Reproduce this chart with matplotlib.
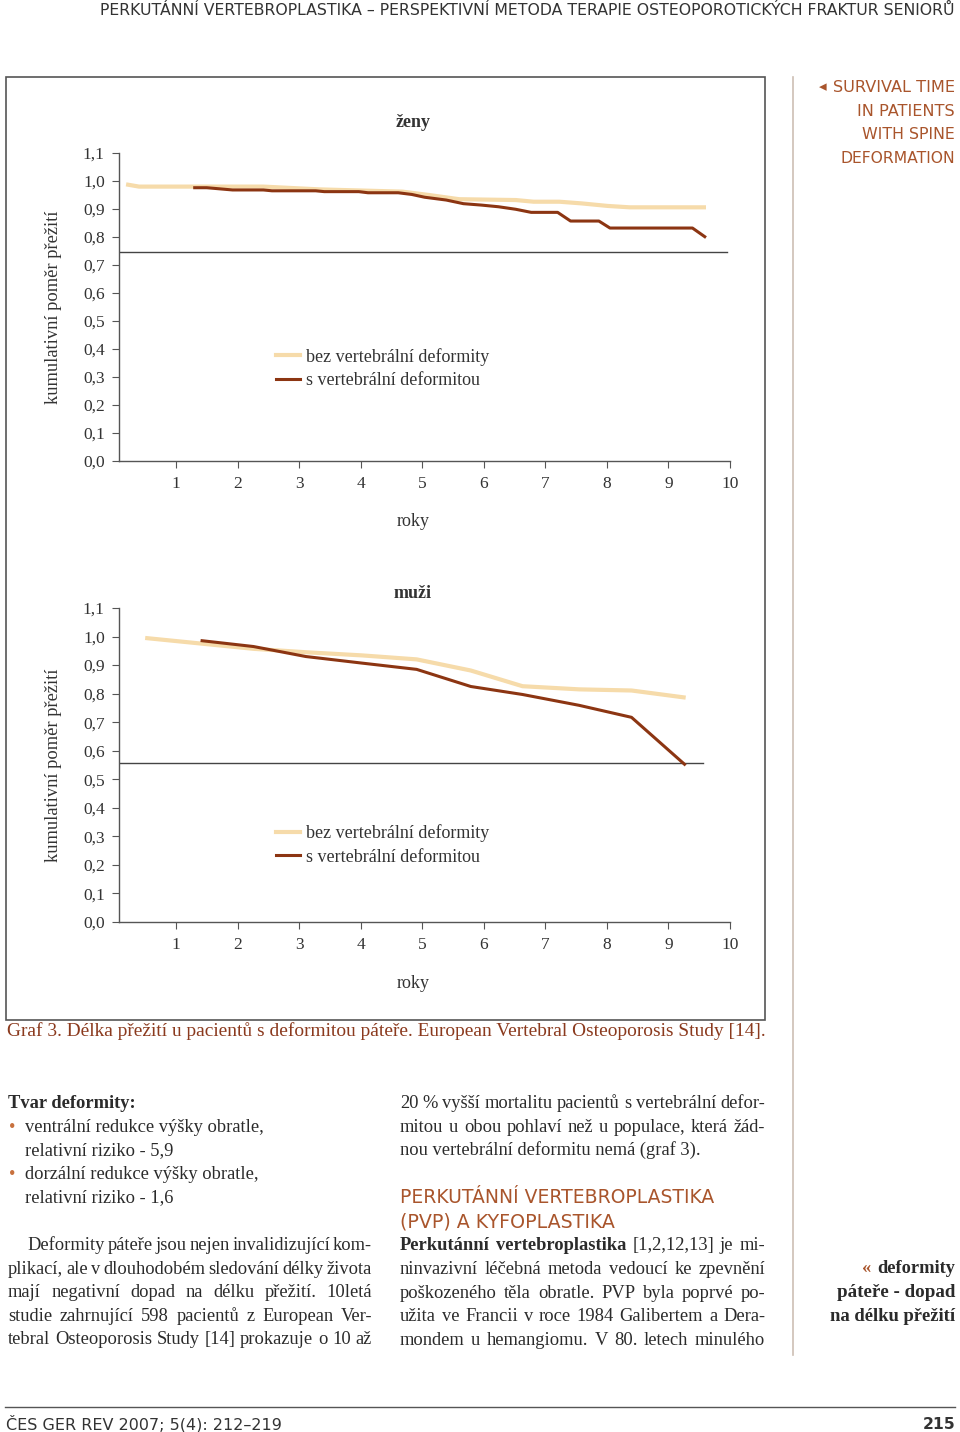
import matplotlib
matplotlib.use("Agg")
import matplotlib.pyplot as plt
from matplotlib.lines import Line2D
from matplotlib.patches import Rectangle

# ---- data ----
years = [1, 2, 3, 4, 5, 6, 7, 8, 9, 10]
ytick_vals = [0.0, 0.1, 0.2, 0.3, 0.4, 0.5, 0.6, 0.7, 0.8, 0.9, 1.0, 1.1]
ytick_labels = ["0,0", "0,1", "0,2", "0,3", "0,4", "0,5", "0,6", "0,7", "0,8", "0,9", "1,0", "1,1"]

# women (ženy)
women_x_bez = [0.19, 0.40, 2.42, 3.34, 4.68, 5.11, 5.60, 6.52, 6.81, 7.23, 7.59, 8.01, 8.37, 9.61]
women_bez = [0.988, 0.980, 0.980, 0.970, 0.962, 0.950, 0.935, 0.932, 0.926, 0.926, 0.920, 0.911, 0.906, 0.906]
women_x_s = [1.28, 1.50, 1.92, 2.42, 2.56, 3.27, 3.41, 3.97, 4.12, 4.61, 4.83, 5.04, 5.39, 5.67,
             5.96, 6.24, 6.52, 6.77, 7.20, 7.41, 7.87, 8.05, 9.39, 9.61]
women_s = [0.976, 0.976, 0.968, 0.968, 0.965, 0.965, 0.962, 0.962, 0.958, 0.958, 0.952, 0.942,
           0.932, 0.919, 0.914, 0.908, 0.899, 0.888, 0.888, 0.857, 0.857, 0.832, 0.832, 0.798]
women_ref = 0.746
women_ref_end = 9.95

# men (muži)
men_x_bez = [0.50, 2.26, 3.11, 4.02, 4.91, 5.79, 6.63, 7.55, 8.40, 9.28]
men_bez = [0.995, 0.957, 0.945, 0.934, 0.920, 0.881, 0.826, 0.815, 0.811, 0.786]
men_x_s = [1.40, 2.26, 3.11, 4.02, 4.91, 5.79, 6.63, 7.55, 8.40, 9.28]
men_s = [0.986, 0.965, 0.930, 0.907, 0.885, 0.825, 0.797, 0.759, 0.717, 0.549]
men_ref = 0.556
men_ref_end = 9.56

legend_labels = ["bez vertebrální deformity", "s vertebrální deformitou"]

LIGHT = "#F6DBAA"
DARK = "#8C3512"
BROWN = "#8B3A1E"
ORANGE = "#A9552C"
GREY = "#555555"
TXT = "#2b2b2b"
SERIF = "Liberation Serif"
SANS = "DejaVu Sans"

W, H = 960, 1432
fig = plt.figure(figsize=(9.6, 14.32), dpi=100)
renderer = fig.canvas.get_renderer()


def fx(x):
    return x / W


def fy(y):
    return 1 - y / H


def fit(s, x, y, width, ha="left", maxsize=None, **kw):
    # text scaled so that it spans the given pixel width
    t = fig.text(fx(x), fy(y), s, ha=ha, va="baseline", fontsize=10, **kw)
    w = t.get_window_extent(renderer).width
    size = 10 * width / w
    if maxsize is not None:
        size = min(size, maxsize)
    t.set_fontsize(size)
    return t


def draw_chart(rect, title, title_y, x_bez, y_bez, x_s, y_s, ref, ref_end, leg_y, xlab_y):
    ax = fig.add_axes(rect)
    ax.plot(x_bez, y_bez, color=LIGHT, lw=3.0, solid_capstyle="butt", zorder=3)
    ax.plot(x_s, y_s, color=DARK, lw=2.2, solid_capstyle="butt", zorder=4)
    ax.plot([0.07, ref_end], [ref, ref], color="#444444", lw=1.0, zorder=2)
    ax.set_xlim(0.07, 10)
    ax.set_ylim(0, 1.1)
    ax.set_xticks(years)
    ax.set_xticklabels([str(y) for y in years])
    ax.set_yticks(ytick_vals)
    ax.set_yticklabels(ytick_labels)
    for s in ["top", "right"]:
        ax.spines[s].set_visible(False)
    for s in ["left", "bottom"]:
        ax.spines[s].set_color(GREY)
        ax.spines[s].set_linewidth(1.0)
    ax.tick_params(axis="both", direction="out", length=5, color=GREY,
                   labelsize=12.5, labelcolor="#333333")
    ax.tick_params(axis="x", pad=6)
    ax.tick_params(axis="y", pad=5)
    for lab in ax.get_xticklabels() + ax.get_yticklabels():
        lab.set_family(SERIF)
    ax.set_ylabel("kumulativní poměr přežití", family=SERIF, fontsize=13.3, color="#333333")
    ax.yaxis.set_label_coords(-0.092, 0.5)
    ax.set_xlabel("roky", family=SERIF, fontsize=13, color="#333333")
    ax.xaxis.set_label_coords(0.481, xlab_y)
    ax.text(0.481, title_y, title, transform=ax.transAxes, ha="center", va="center",
            family=SERIF, fontsize=13, fontweight="bold", color="#333333")
    handles = [Line2D([], [], color=LIGHT, lw=3.0), Line2D([], [], color=DARK, lw=2.2)]
    ax.legend(handles, legend_labels, loc="upper left", bbox_to_anchor=(0.257, leg_y),
              frameon=False, prop={"family": SERIF, "size": 13}, handlelength=1.35,
              handletextpad=0.3, labelspacing=0.36, borderpad=0, borderaxespad=0,
              labelcolor="#333333")
    return ax


ax_l = 118.7 / W
ax_w = 611.3 / W
draw_chart([ax_l, fy(461), ax_w, 308 / H], "ženy", 1.098,
           women_x_bez, women_bez, women_x_s, women_s, women_ref, women_ref_end, 0.368, -0.168)
draw_chart([ax_l, fy(922), ax_w, 314 / H], "muži", 1.045,
           men_x_bez, men_bez, men_x_s, men_s, men_ref, men_ref_end, 0.311, -0.169)

# frame around the figure and page rules
fig.patches.append(Rectangle((fx(6), fy(1020)), fx(759), 943 / H, transform=fig.transFigure,
                             fill=False, edgecolor="#555555", lw=1.2))
fig.add_artist(Line2D([fx(793), fx(793)], [fy(77), fy(1355)], color="#CDBFB4", lw=1.2))
fig.add_artist(Line2D([fx(5), fx(955)], [fy(1407), fy(1407)], color="#555555", lw=1.0))

# header / footer
fit("PERKUTÁNNÍ VERTEBROPLASTIKA – PERSPEKTIVNÍ METODA TERAPIE OSTEOPOROTICKÝCH FRAKTUR SENIORŮ",
    955, 15, 857, ha="right", family=SANS, color="#333333")
fit("ČES GER REV 2007; 5(4): 212–219", 6, 1429, 304, maxsize=11.5, family=SANS, color="#333333")
fit("215", 955, 1429, 33, ha="right", maxsize=12, family=SANS, fontweight="bold", color="#333333")

# side note top right
side = [("SURVIVAL TIME", 122), ("IN PATIENTS", 97), ("WITH SPINE", 93), ("DEFORMATION", 115)]
for i, (s, wd) in enumerate(side):
    fit(s, 955, 92 + i * 23.7, wd, ha="right", family=SANS, color=ORANGE)
fig.text(fx(827), fy(91), "◂", ha="right", va="baseline", family="DejaVu Sans",
         fontsize=11, color=ORANGE)

# caption
fit("Graf 3. Délka přežití u pacientů s deformitou páteře. European Vertebral Osteoporosis Study [14].",
    7, 1036, 758, family=SERIF, color=BROWN)

BODY = 13.3


def justify(words, x0, x1, y, weights=None):
    if weights is None:
        weights = ["normal"] * len(words)
    texts = [fig.text(0, fy(y), w, ha="left", va="baseline", family=SERIF, fontsize=BODY,
                      fontweight=wt, color=TXT) for w, wt in zip(words, weights)]
    widths = [t.get_window_extent(renderer).width for t in texts]
    gap = (x1 - x0 - sum(widths)) / max(len(words) - 1, 1)
    x = x0
    for t, wd in zip(texts, widths):
        t.set_x(fx(x))
        x += wd + gap


def plain(s, x, y, weight="normal", color=TXT):
    fig.text(fx(x), fy(y), s, ha="left", va="baseline", family=SERIF, fontsize=BODY,
             fontweight=weight, color=color)


# left column
plain("Tvar deformity:", 8, 1108, weight="bold")
for y, s in [(1132, "ventrální redukce výšky obratle,"), (1179, "dorzální redukce výšky obratle,")]:
    fig.text(fx(9), fy(y), "•", ha="left", va="baseline", family=SERIF, fontsize=BODY, color="#C8713E")
    plain(s, 25, y)
plain("relativní riziko - 5,9", 25, 1155)
plain("relativní riziko - 1,6", 25, 1202)

left_lines = [
    ("Deformity páteře jsou nejen invalidizující kom-", 27),
    ("plikací, ale v dlouhodobém sledování délky života", 8),
    ("mají negativní dopad na délku přežití. 10letá", 8),
    ("studie zahrnující 598 pacientů z European Ver-", 8),
    ("tebral Osteoporosis Study [14] prokazuje o 10 až", 8),
]
for i, (s, x0) in enumerate(left_lines):
    justify(s.split(" "), x0, 372, 1250 + i * 23.6)

# right column
justify("20 % vyšší mortalitu pacientů s vertebrální defor-".split(" "), 400, 765, 1108)
justify("mitou u obou pohlaví než u populace, která žád-".split(" "), 400, 765, 1132)
plain("nou vertebrální deformitu nemá (graf 3).", 400, 1155)
fit("PERKUTÁNNÍ VERTEBROPLASTIKA", 400, 1203, 313, family=SANS, color=ORANGE)
fit("(PVP) A KYFOPLASTIKA", 400, 1227, 215, family=SANS, color=ORANGE)
w1 = "Perkutánní vertebroplastika [1,2,12,13] je mi-".split(" ")
justify(w1, 400, 765, 1250, weights=["bold", "bold", "normal", "normal", "normal"])
right_lines = [
    "ninvazivní léčebná metoda vedoucí ke zpevnění",
    "poškozeného těla obratle. PVP byla poprvé po-",
    "užita ve Francii v roce 1984 Galibertem a Dera-",
    "mondem u hemangiomu. V 80. letech minulého",
]
for i, s in enumerate(right_lines):
    justify(s.split(" "), 400, 765, 1274 + i * 23.6)

# right margin note
fit("deformity", 955, 1273, 78, ha="right", family=SERIF, fontweight="bold", color=TXT)
fig.text(fx(871), fy(1273), "«", ha="right", va="baseline", family=SERIF,
         fontsize=BODY, fontweight="bold", color=ORANGE)
fit("páteře - dopad", 955, 1297, 119, ha="right", family=SERIF, fontweight="bold", color=TXT)
fit("na délku přežití", 955, 1321, 126, ha="right", family=SERIF, fontweight="bold", color=TXT)

fig.savefig("out.png", dpi=100)
